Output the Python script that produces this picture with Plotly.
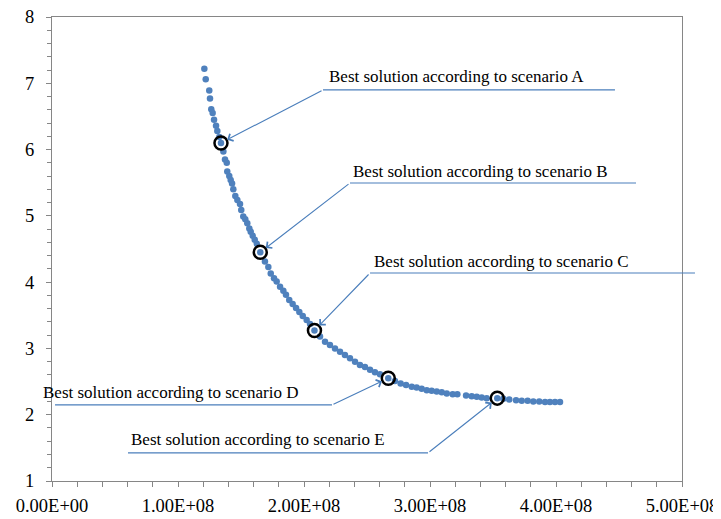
import plotly.graph_objects as go

# Pareto front points (x in units of 1e8)
front_x = [1.209, 1.220, 1.248, 1.254, 1.264, 1.275, 1.286, 1.302, 1.312, 1.328,
           1.341, 1.360, 1.373, 1.387, 1.391, 1.407, 1.418, 1.429, 1.439, 1.455,
           1.471, 1.492, 1.502, 1.518, 1.534, 1.550, 1.566, 1.577, 1.593, 1.609,
           1.625, 1.653, 1.690, 1.717, 1.736, 1.762, 1.783, 1.810, 1.836, 1.857,
           1.883, 1.910, 1.937, 1.963, 1.990, 2.021, 2.048, 2.083, 2.127, 2.167,
           2.206, 2.246, 2.286, 2.325, 2.365, 2.405, 2.444, 2.484, 2.524, 2.563,
           2.603, 2.669, 2.722, 2.767, 2.810, 2.855, 2.894, 2.934, 2.974, 3.013,
           3.053, 3.093, 3.133, 3.180, 3.217, 3.286, 3.331, 3.371, 3.410, 3.450,
           3.534, 3.582, 3.629, 3.683, 3.728, 3.775, 3.820, 3.867, 3.913, 3.952,
           3.992, 4.032]
front_y = [7.22, 7.06, 6.89, 6.77, 6.61, 6.55, 6.45, 6.36, 6.28, 6.19,
           6.10, 5.97, 5.85, 5.80, 5.67, 5.60, 5.54, 5.49, 5.40, 5.30,
           5.24, 5.18, 5.09, 4.99, 4.95, 4.89, 4.81, 4.76, 4.70, 4.64,
           4.58, 4.45, 4.31, 4.23, 4.13, 4.06, 4.01, 3.93, 3.87, 3.81,
           3.73, 3.67, 3.61, 3.55, 3.49, 3.43, 3.37, 3.27, 3.18, 3.10,
           3.05, 3.00, 2.95, 2.90, 2.85, 2.80, 2.75, 2.72, 2.68, 2.64,
           2.61, 2.55, 2.51, 2.47, 2.45, 2.42, 2.41, 2.39, 2.37, 2.36,
           2.35, 2.34, 2.32, 2.31, 2.31, 2.29, 2.28, 2.27, 2.26, 2.25,
           2.25, 2.24, 2.23, 2.22, 2.21, 2.21, 2.20, 2.20, 2.19, 2.19,
           2.19, 2.19]

# Best solutions per scenario
scenarios = ["A", "B", "C", "D", "E"]
best_x = [1.341, 1.653, 2.083, 2.669, 3.534]
best_y = [6.10, 4.45, 3.27, 2.55, 2.25]

# Axis ticks
x_ticks = [0, 1, 2, 3, 4, 5]
x_ticktext = [f"{v * 1e8:.2E}" for v in x_ticks]
y_ticks = [1, 2, 3, 4, 5, 6, 7, 8]

SCALE = 1e8
X_RANGE = [0, 5e8]
Y_RANGE = [1, 8]

# Callout layout (data units, x in 1e8): elbow, underline far end, label left/center
callouts = {
    "A": dict(elbow=(2.151, 6.90), end_x=4.468, label=(2.180, 7.095)),
    "B": dict(elbow=(2.365, 5.496), end_x=4.635, label=(2.372, 5.662)),
    "C": dict(elbow=(2.524, 4.138), end_x=5.103, label=(2.540, 4.304)),
    "D": dict(elbow=(2.222, 2.147), end_x=0.024, label=(-0.086, 2.328)),
    "E": dict(elbow=(2.984, 1.423), end_x=0.603, label=(0.612, 1.619)),
}

FONT = "Liberation Serif"
DOT = "#4F81BD"
LINE = "#4A7EBB"


def px(xv):
    return (xv * SCALE - X_RANGE[0]) / (X_RANGE[1] - X_RANGE[0])


def py(yv):
    return (yv - Y_RANGE[0]) / (Y_RANGE[1] - Y_RANGE[0])


fig = go.Figure()
fig.add_trace(go.Scatter(
    x=[v * SCALE for v in front_x], y=front_y, mode="markers",
    marker=dict(color=DOT, size=6.5, line=dict(width=0)),
    showlegend=False, hoverinfo="skip"))
fig.add_trace(go.Scatter(
    x=[v * SCALE for v in best_x], y=best_y, mode="markers",
    marker=dict(symbol="circle-open", color="black", size=13, line=dict(width=2.5)),
    showlegend=False, hoverinfo="skip"))

shapes = []
annotations = []
for s, bx, by in zip(scenarios, best_x, best_y):
    c = callouts[s]
    ex, ey = c["elbow"]
    shapes.append(dict(type="line", xref="paper", yref="paper",
                       x0=px(ex), y0=py(ey), x1=px(c["end_x"]), y1=py(ey),
                       line=dict(color=LINE, width=1.2)))
    annotations.append(dict(x=bx * SCALE, y=by, xref="x", yref="y",
                            ax=ex * SCALE, ay=ey, axref="x", ayref="y",
                            text="", showarrow=True, arrowhead=4, arrowsize=1.4,
                            arrowwidth=1.1, arrowcolor=LINE, standoff=7))
    lx, ly = c["label"]
    annotations.append(dict(x=px(lx), y=py(ly), xref="paper", yref="paper",
                            text=f"Best solution according to scenario {s}",
                            showarrow=False, xanchor="left", yanchor="middle",
                            font=dict(family=FONT, size=17, color="black")))

# page body has an 8 px margin, so the figure is 8 px smaller and offset
fig.update_layout(
    width=713, height=511,
    margin=dict(l=44, r=39, t=9, b=38, autoexpand=False),
    paper_bgcolor="white", plot_bgcolor="white",
    shapes=shapes, annotations=annotations,
    font=dict(family=FONT, size=18, color="black"),
)
fig.update_xaxes(
    range=X_RANGE, tickvals=[v * SCALE for v in x_ticks], ticktext=x_ticktext,
    automargin=False, ticklabeloverflow="allow",
    showgrid=False, zeroline=False, showline=True, mirror=True,
    linecolor="#868686", linewidth=1,
    ticks="outside", ticklen=5, tickcolor="#868686", tickwidth=1,
    ticklabelstandoff=3,
    minor=dict(dtick=0.2 * SCALE, ticks="outside", ticklen=5, tickcolor="#868686", showgrid=False),
    tickfont=dict(family=FONT, size=18.5, color="black"),
)
fig.update_yaxes(
    range=Y_RANGE, tickvals=y_ticks,
    automargin=False, ticklabeloverflow="allow",
    showgrid=False, zeroline=False, showline=True, mirror=True,
    linecolor="#868686", linewidth=1,
    ticks="outside", ticklen=5, tickcolor="#868686", tickwidth=1,
    ticklabelstandoff=8,
    minor=dict(dtick=0.2, ticks="outside", ticklen=4, tickcolor="#868686", showgrid=False),
    tickfont=dict(family=FONT, size=18.5, color="black"),
)

fig.write_html("out.html")
